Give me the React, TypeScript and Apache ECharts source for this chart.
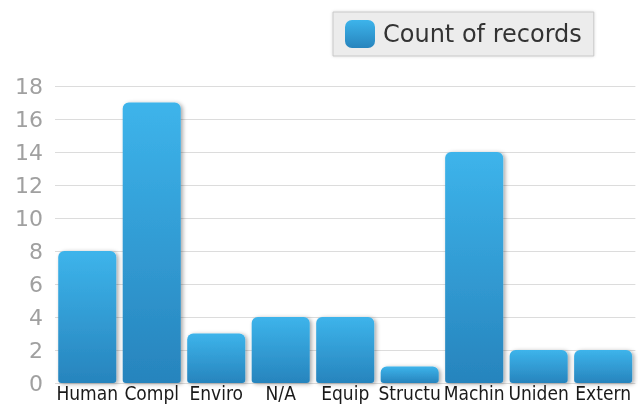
import React, { useEffect, useRef } from "react";
import * as echarts from "echarts";

const categories = ["Human error", "Complacency", "Environment", "N/A", "Equipment", "Structural", "Machinery", "Unidentified", "External"];
const counts = [8, 17, 3, 4, 4, 1, 14, 2, 2];
const seriesName = "Count of records";

export default function App() {
  const ref = useRef<HTMLDivElement>(null);
  useEffect(() => {
    const chart = echarts.init(ref.current!, null, { renderer: "svg" });
    chart.setOption({
      animation: false,
      legend: {
        data: [seriesName],
        left: 333,
        top: 12,
        padding: [8, 12, 8, 12],
        backgroundColor: "#ececec",
        borderColor: "#c8c8c8",
        borderWidth: 1,
        itemWidth: 30,
        itemHeight: 28,
        shadowColor: "rgba(0,0,0,0.15)",
        shadowBlur: 3,
        textStyle: { fontSize: 24, color: "#333", fontFamily: "DejaVu Sans", padding: [0, 0, 0, 3] },
      },
      grid: { left: 55, right: 0, top: 86, bottom: 24, containLabel: false },
      xAxis: {
        type: "category",
        data: categories,
        axisLine: { show: false },
        axisTick: { show: false },
        axisLabel: {
          interval: 0,
          fontSize: 19,
          lineHeight: 19,
          color: "#1a1a1a",
          fontFamily: "DejaVu Sans Condensed",
          width: 64,
          overflow: "truncate",
          ellipsis: "",
          margin: 0,
        },
      },
      yAxis: {
        type: "value",
        min: 0,
        max: 18,
        interval: 2,
        axisLine: { show: false },
        axisTick: { show: false },
        axisLabel: { fontSize: 22, color: "#a0a0a0", fontFamily: "DejaVu Sans", margin: 12 },
        splitLine: { lineStyle: { color: "#dcdcdc", width: 1 } },
      },
      series: [
        {
          name: seriesName,
          type: "bar",
          data: counts,
          barCategoryGap: "10%",
          itemStyle: {
            color: new echarts.graphic.LinearGradient(0, 0, 0, 1, [
              { offset: 0, color: "#3db4eb" },
              { offset: 1, color: "#2784bd" },
            ]),
            borderRadius: [6, 6, 3, 3],
            shadowColor: "rgba(0,0,0,0.35)",
            shadowBlur: 4,
            shadowOffsetX: 2,
            shadowOffsetY: 1,
          },
        },
      ],
    });
    return () => chart.dispose();
  }, []);
  return <div ref={ref} style={{ position: "fixed", left: 0, top: 0, width: 638, height: 407 }} />;
}
